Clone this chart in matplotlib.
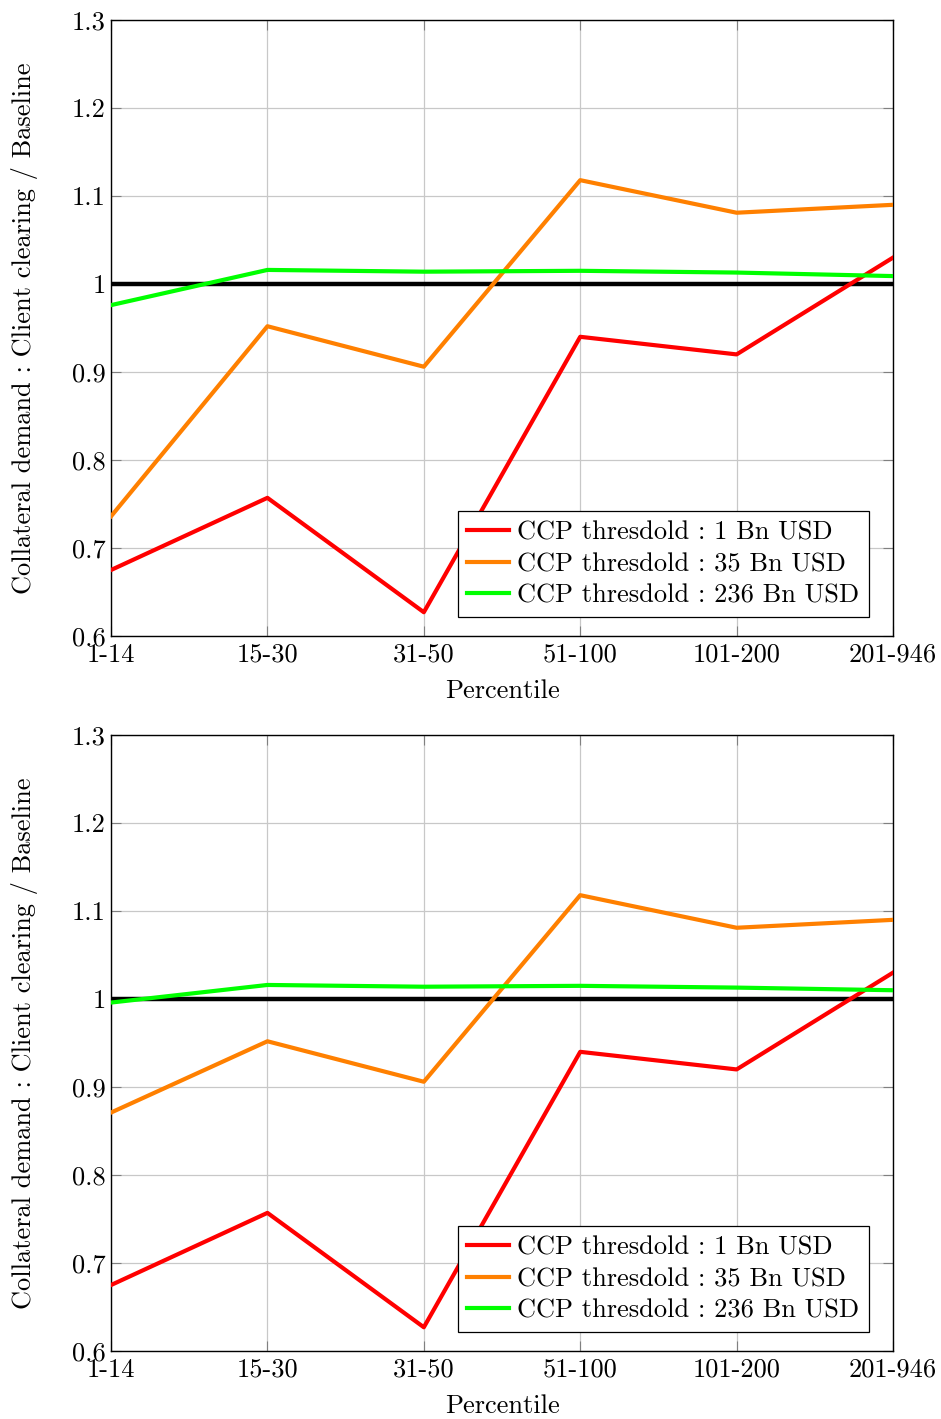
import matplotlib
matplotlib.use("Agg")
import matplotlib.pyplot as plt

plt.rcParams['font.family'] = ['cmr10', 'DejaVu Serif']
plt.rcParams['mathtext.fontset'] = 'cm'
plt.rcParams['axes.unicode_minus'] = False

# Données
percentiles = ['1-14', '15-30', '31-50', '51-100', '101-200', '201-946']
yticks = [0.6, 0.7, 0.8, 0.9, 1.0, 1.1, 1.2, 1.3]
ytick_labels = ['0.6', '0.7', '0.8', '0.9', '1', '1.1', '1.2', '1.3']
labels = ['CCP thresdold : 1 Bn USD', 'CCP thresdold : 35 Bn USD', 'CCP thresdold : 236 Bn USD']
couleurs = ['#ff0000', '#ff8000', '#00ff00']

haut_1bn = [0.675, 0.757, 0.627, 0.940, 0.920, 1.030]
haut_35bn = [0.736, 0.952, 0.906, 1.118, 1.081, 1.090]
haut_236bn = [0.976, 1.016, 1.014, 1.015, 1.013, 1.009]

bas_1bn = [0.675, 0.757, 0.627, 0.940, 0.920, 1.030]
bas_35bn = [0.871, 0.952, 0.906, 1.118, 1.081, 1.090]
bas_236bn = [0.996, 1.016, 1.014, 1.015, 1.013, 1.010]

baseline = 1.0
fs = 19

fig = plt.figure(figsize=(9.41, 14.19), dpi=100)
ax1 = fig.add_axes([0.118, 0.5518, 0.831, 0.4341])
ax2 = fig.add_axes([0.118, 0.0479, 0.831, 0.4341])

def trace(ax, series):
    x = range(len(percentiles))
    ax.axhline(baseline, color='black', linewidth=3.2, zorder=3)
    for vals, c, lab in zip(series, couleurs, labels):
        ax.plot(x, vals, color=c, linewidth=3.0, label=lab, zorder=4)
    ax.set_xlim(0, len(percentiles) - 1)
    ax.set_ylim(0.6, 1.3)
    ax.set_xticks(list(x))
    ax.set_xticklabels(percentiles)
    ax.set_yticks(yticks)
    ax.set_yticklabels(ytick_labels)
    ax.grid(True, color='#c8c8c8', linewidth=0.9)
    ax.set_axisbelow(True)
    ax.tick_params(direction='in', length=7, color='#808080', labelsize=fs,
                   top=True, right=True, pad=4)
    ax.tick_params(axis='x', pad=5)
    ax.set_xlabel('Percentile', fontsize=fs, labelpad=9)
    ax.set_ylabel('Collateral demand : Client clearing / Baseline', fontsize=fs, labelpad=24)
    for s in ax.spines.values():
        s.set_linewidth(1.0)
    leg = ax.legend(loc='lower right', bbox_to_anchor=(0.969, 0.031), borderaxespad=0,
                    prop={'size': fs}, fancybox=False, edgecolor='black', framealpha=1,
                    handlelength=1.6, handletextpad=0.3, labelspacing=0.3,
                    borderpad=0.35)
    leg.get_frame().set_linewidth(0.9)
    leg.set_zorder(10)

trace(ax1, [haut_1bn, haut_35bn, haut_236bn])
trace(ax2, [bas_1bn, bas_35bn, bas_236bn])

plt.savefig('out.png', dpi=100)
